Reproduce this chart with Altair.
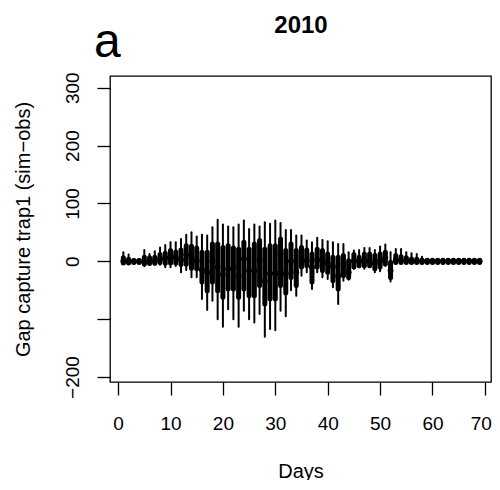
import altair as alt
import pandas as pd

days = list(range(1, 70))
ymax = [15.6, 11.6, 3, 2, 19.6, 12.7, 17.3, 24, 28, 33, 33, 38.7, 46, 50, 42.8, 45.7, 44.5, 59, 71.7, 63.6,
        60, 59, 63.6, 70.5, 56, 63.6, 60, 67.6, 64.7, 70.5, 66, 54, 54, 44.5, 44.5, 36, 33, 40.5, 37, 34.7,
        33, 30, 30, 15.6, 18.5, 19.7, 23, 23, 19.7, 25.4, 29, 15.6, 21.4, 21.4, 15.6, 14, 12.7, 8,
        3, 3, 3, 3, 3, 3, 3, 3, 3, 3, 3]
q3 = [6, 3.5, 1.5, 1.5, 7, 6, 7, 11.6, 14, 18.5, 16, 19.7, 27, 26, 23, 15.6, 15.6, 30, 30, 24,
      27, 23, 21, 33, 21, 30, 36, 21, 27, 27, 38.7, 18.5, 30, 18.5, 24, 19.7, 12.7, 21, 18.5, 12.7,
      7, 7, 10, 1, 11.6, 7, 12.7, 12.7, 10, 12.7, 15.6, -1.7, 10, 8, 6, 4, 3.5, 2.3,
      2, 2, 2, 2, 2, 2, 2, 2, 2, 2, 2]
median = [0, 0, 0, 0, -1, -0.5, 0, 4, 6, 6, 7, 2.3, 11.6, 7, 1, -14.5, -19, 0, -10, -23,
          -13, -10, -25, 4, -16, -16, 2.3, -33.5, -21, -21, 12.7, -21, 0, -19, 4, 1, -10, 2.3, 2.3, -3.5,
          -9, -25, -4.6, -19, 0, 0, 0, 0, -3.5, 1, 6, -16, 2.3, 1, 1, 0, 0, 0,
          0, 0, 0, 0, 0, 0, 0, 0, 0, 0, 0]
q1 = [-3, -3, -2, -2, -4.6, -4, -3.5, -2, -3.5, -3, -3, -5.7, -5, -12, -13, -36, -51, -36, -51, -62,
      -48, -48, -62, -48, -59.5, -59.5, -42, -74, -65, -65, -42, -55, -28, -42, -10, -7.5, -36, -10, -16, -19,
      -33.5, -48, -25, -28, -10, -7.5, -7.5, -7.5, -13, -10, -4.6, -28, -2.3, -2.3, -2.3, -2.3, -2.3, -2.3,
      -2, -2, -2, -2, -2, -2, -2, -2, -2, -2, -2]
ymin = [-4.6, -3.5, -3, -3, -8.7, -5.8, -5.8, -5.8, -10.4, -10.4, -8, -19, -15, -27.7, -27.7, -65, -84, -68, -100, -113,
        -82.7, -100, -113, -85.5, -100, -105.8, -91, -130.6, -117, -119, -85.5, -95, -50, -59.5, -25, -19, -48, -19, -27.7, -30.6,
        -45, -74, -33.5, -32, -13, -10.4, -13, -10.4, -19, -17, -7.5, -35, -3.5, -3.5, -3.5, -3.5, -3.5, -3.5,
        -3.5, -3.5, -3.5, -3.5, -3.5, -3.5, -3.5, -3.5, -3.5, -3.5, -3.5]

x_ticks = [0, 10, 20, 30, 40, 50, 60, 70]
y_ticks = [-200, -100, 0, 100, 200, 300]

df = pd.DataFrame({"day": days, "ymin": ymin, "q1": q1, "median": median, "q3": q3, "ymax": ymax})

FONT = "Liberation Sans"

xscale = alt.Scale(domain=[-1.55, 71.17], nice=False, zero=False)
yscale = alt.Scale(domain=[-208.6, 320.2], nice=False, zero=False)

xaxis = alt.Axis(values=x_ticks, title="Days", domain=False, grid=False,
                 tickSize=13, tickColor="black", tickWidth=1.3,
                 labelFont=FONT, labelFontSize=19, labelColor="black", labelPadding=34,
                 labelBaseline="alphabetic", labelFlush=False, labelOverlap=False,
                 labelOffset={"condition": {"test": "datum.value == 70", "value": -4}, "value": 0},
                 titleFont=FONT, titleFontSize=20, titleFontWeight="normal", titleColor="black",
                 titleBaseline="alphabetic", titleY=95)
yaxis = alt.Axis(values=y_ticks, title="Gap capture trap1 (sim\u2212obs)",
                 domain=False, grid=False, tickSize=13, tickColor="black", tickWidth=1.3,
                 labelFont=FONT, labelFontSize=19, labelColor="black", labelPadding=19,
                 labelAngle=270, labelAlign="center", labelBaseline="alphabetic",
                 labelFlush=False, labelOverlap=False,
                 labelExpr="datum.value == -100 ? '' : datum.label",
                 titleFont=FONT, titleFontSize=20, titleFontWeight="normal", titleColor="black",
                 titleAngle=270, titleBaseline="alphabetic", titleAlign="center", titleX=-81, titleY=153)

base = alt.Chart(df)
whisk = base.mark_rule(color="black", strokeWidth=2, strokeCap="round").encode(
    x=alt.X("day:Q", scale=xscale, axis=xaxis),
    y=alt.Y("ymin:Q", scale=yscale, axis=yaxis),
    y2="ymax:Q",
)
box = base.mark_rule(color="black", strokeWidth=5, strokeCap="round").encode(
    x=alt.X("day:Q", scale=xscale),
    y=alt.Y("q1:Q", scale=yscale),
    y2="q3:Q",
)
med = base.mark_point(color="black", filled=True, opacity=1, size=34, shape="circle").encode(
    x=alt.X("day:Q", scale=xscale),
    y=alt.Y("median:Q", scale=yscale),
)

label_df = pd.DataFrame({"t": ["a"]})
panel = alt.Chart(label_df).mark_text(text="a", font=FONT, fontSize=48, align="left",
                                      baseline="alphabetic", color="black").encode(
    x=alt.value(-16), y=alt.value(-19))
title_df = pd.DataFrame({"t": ["2010"]})
ttl = alt.Chart(title_df).mark_text(text="2010", font=FONT, fontSize=24, fontWeight="bold",
                                    align="center", baseline="alphabetic", color="black").encode(
    x=alt.value(191), y=alt.value(-43))

chart = alt.layer(whisk, box, med, panel, ttl).properties(
    width=381, height=306,
    background="white",
    autosize=alt.AutoSizeParams(type="none"),
    padding={"left": 102, "top": 68, "right": 1, "bottom": 98},
).configure_view(stroke="black", strokeWidth=1.3, strokeOpacity=1)

chart.save("out.html", embed_options={"renderer": "svg", "actions": False})
